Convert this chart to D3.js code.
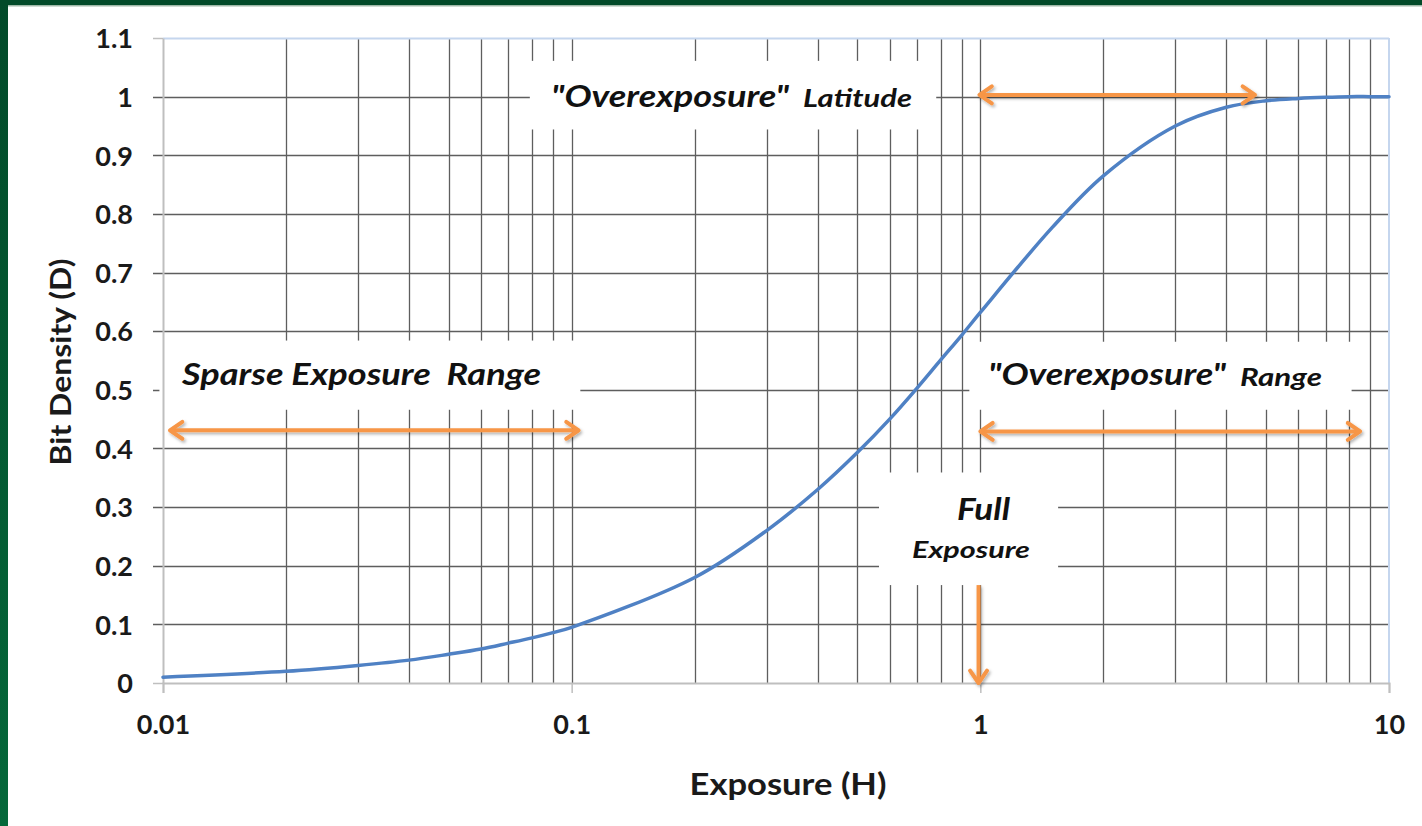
<!DOCTYPE html>
<html>
<head>
<meta charset="utf-8">
<script src="https://cdn.jsdelivr.net/npm/d3@7/dist/d3.min.js"></script>
<style>
  html, body { margin: 0; padding: 0; background: #fff; }
  svg { display: block; }
</style>
</head>
<body>
<svg id="chart" width="1422" height="826"></svg>
<script>
// ---- data ----
const exposure = [0.01, 0.02, 0.03, 0.04, 0.05, 0.06, 0.07, 0.08, 0.09, 0.1,
                  0.2, 0.3, 0.4, 0.5, 0.6, 0.7, 0.8, 0.9, 1,
                  1.5, 2, 3, 4, 5, 6, 7, 8, 9, 10];
const density  = [0.01, 0.02, 0.03, 0.039, 0.049, 0.058, 0.068, 0.077, 0.086, 0.095,
                  0.18, 0.26, 0.33, 0.393, 0.45, 0.503, 0.551, 0.593, 0.632,
                  0.777, 0.865, 0.95, 0.982, 0.993, 0.997, 0.999, 1.0, 1.0, 1.0];
const xTickValues = [0.01, 0.1, 1, 10];
const xTickLabels = ["0.01", "0.1", "1", "10"];
const yTickValues = [0, 0.1, 0.2, 0.3, 0.4, 0.5, 0.6, 0.7, 0.8, 0.9, 1, 1.1];
const yTickLabels = ["0", "0.1", "0.2", "0.3", "0.4", "0.5", "0.6", "0.7", "0.8", "0.9", "1", "1.1"];
const xTitle = "Exposure (H)";
const yTitle = "Bit Density (D)";

// annotation boxes in data coordinates: [x0, x1, yTop, yBottom]
const labelBoxes = [
  [0.079, 0.78, 1.061, 0.944],
  [0.0098, 0.105, 0.584, 0.466],
  [0.94, 8.1, 0.582, 0.466],
  [0.565, 1.55, 0.359, 0.167]
];
// arrows in data coordinates: [x0, y0, x1, y1, twoHeads]
const arrows = [
  [0.995, 1.003, 4.7, 1.003, true],
  [0.0104, 0.431, 0.104, 0.431, true],
  [1.0, 0.429, 8.5, 0.429, true],
  [0.99, 0.167, 0.99, 0.0, false]
];

// ---- layout ----
const svg = d3.select("#chart");
const W = 1422, H = 826;
const x = d3.scaleLog().domain([0.01, 10]).range([163, 1389]);
const y = d3.scaleLinear().domain([0, 1.1]).range([683, 38]);

// frame
const defs = svg.append("defs");
const lg = defs.append("linearGradient").attr("id", "frameGrad").attr("x1", 0).attr("y1", 0).attr("x2", 0).attr("y2", 1);
lg.append("stop").attr("offset", "0%").attr("stop-color", "#024a29");
lg.append("stop").attr("offset", "100%").attr("stop-color", "#05683a");
svg.append("rect").attr("width", W).attr("height", H).attr("fill", "#fff");
svg.append("rect").attr("x", 0).attr("y", 0).attr("width", 8).attr("height", H).attr("fill", "url(#frameGrad)");
svg.append("rect").attr("x", 0).attr("y", 0).attr("width", W).attr("height", 5).attr("fill", "#024a29");
svg.append("rect").attr("x", 8).attr("y", 5).attr("width", W - 8).attr("height", 1.5).attr("fill", "#9fb8a8");

const filt = defs.append("filter").attr("id", "shadow").attr("x", "-20%").attr("y", "-50%").attr("width", "140%").attr("height", "200%");
filt.append("feDropShadow").attr("dx", 1.5).attr("dy", 2).attr("stdDeviation", 1.5).attr("flood-color", "#000").attr("flood-opacity", 0.3);

// gridlines
const gridColor = "#5e5e5e";
const grid = svg.append("g");
const xMinor = x.ticks();
grid.selectAll("line.vx").data(xMinor.filter(d => d > 0.01 && d < 10)).join("line")
  .attr("x1", d => Math.round(x(d)) + 0.5).attr("x2", d => Math.round(x(d)) + 0.5)
  .attr("y1", y(1.1)).attr("y2", y(0))
  .attr("stroke", gridColor).attr("stroke-width", 1.3);
grid.selectAll("line.hy").data(yTickValues.filter(d => d > 0 && d < 1.1)).join("line")
  .attr("x1", x(0.01) - 10).attr("x2", x(10))
  .attr("y1", d => Math.round(y(d)) + 0.5).attr("y2", d => Math.round(y(d)) + 0.5)
  .attr("stroke", gridColor).attr("stroke-width", 1.3);
// tick stubs left of plot for 0 and 1.1
[0, 1.1].forEach(v => {
  grid.append("line").attr("x1", x(0.01) - 10).attr("x2", x(0.01))
    .attr("y1", Math.round(y(v)) + 0.5).attr("y2", Math.round(y(v)) + 0.5)
    .attr("stroke", "#bfbfbf").attr("stroke-width", 1.5);
});
// plot border top/right light blue
grid.append("line").attr("x1", x(0.01)).attr("x2", x(10)).attr("y1", y(1.1) + 0.5).attr("y2", y(1.1) + 0.5)
  .attr("stroke", "#c5d6ee").attr("stroke-width", 2);
grid.append("line").attr("x1", x(10)).attr("x2", x(10)).attr("y1", y(1.1)).attr("y2", y(0))
  .attr("stroke", "#c5d6ee").attr("stroke-width", 2);

// white label boxes that hide the grid
svg.append("g").selectAll("rect").data(labelBoxes).join("rect")
  .attr("x", d => x(d[0])).attr("y", d => y(d[2]))
  .attr("width", d => x(d[1]) - x(d[0])).attr("height", d => y(d[3]) - y(d[2]))
  .attr("fill", "#fff");

// axes
const xAxis = svg.append("g").attr("transform", `translate(0,${y(0)})`)
  .call(d3.axisBottom(x).tickValues(xTickValues).tickFormat((d, i) => xTickLabels[i]).tickSize(10).tickPadding(22));
const yAxis = svg.append("g").attr("transform", `translate(${x(0.01)},0)`)
  .call(d3.axisLeft(y).tickValues(yTickValues).tickFormat((d, i) => yTickLabels[i]).tickSize(0).tickPadding(30));
[xAxis, yAxis].forEach(a => {
  a.select(".domain").attr("stroke", "#bfbfbf").attr("stroke-width", 2);
  a.selectAll(".tick line").attr("stroke", "#bfbfbf").attr("stroke-width", 1.5);
  a.selectAll("text").attr("font-family", "Lato, 'DejaVu Sans', sans-serif").attr("font-weight", 700)
    .attr("font-size", 27).attr("fill", "#1a1a1a");
});
yAxis.selectAll(".tick text").attr("dy", "0.36em");
xAxis.selectAll(".tick text").attr("dy", "0.71em");

// curve
const pts = exposure.map((e, i) => [e, density[i]]);
svg.append("path").datum(pts)
  .attr("d", d3.line().x(d => x(d[0])).y(d => y(d[1])).curve(d3.curveCatmullRom.alpha(0.5)))
  .attr("fill", "none").attr("stroke", "#4f81c4").attr("stroke-width", 3.5)
  .attr("stroke-linecap", "round");

// arrows
const orange = "#f79646";
const ag = svg.append("g").attr("filter", "url(#shadow)");
arrows.forEach(a => {
  const x0 = x(a[0]), y0 = y(a[1]), x1 = x(a[2]), y1 = y(a[3]);
  ag.append("line").attr("x1", x0).attr("y1", y0).attr("x2", x1).attr("y2", y1)
    .attr("stroke", orange).attr("stroke-width", 4);
  const ang = Math.atan2(y1 - y0, x1 - x0);
  const head = (px, py, th) => {
    const L = 15, s = 0.6;
    const p1 = [px - L * Math.cos(th - s), py - L * Math.sin(th - s)];
    const p2 = [px - L * Math.cos(th + s), py - L * Math.sin(th + s)];
    ag.append("path").attr("d", `M${p1}L${px},${py}L${p2}`)
      .attr("fill", "none").attr("stroke", orange).attr("stroke-width", 4)
      .attr("stroke-linecap", "round").attr("stroke-linejoin", "round");
  };
  head(x1, y1, ang);
  if (a[4]) head(x0, y0, ang + Math.PI);
});

// annotation texts
const font = "Lato, 'DejaVu Sans', sans-serif";
const notes = [
  { t: "\"Overexposure\"", x: 551, y: 107, s: 30, w: 238 },
  { t: "Latitude", x: 803, y: 107, s: 24, w: 109 },
  { t: "Sparse Exposure  Range", x: 182, y: 385, s: 30, w: 359 },
  { t: "\"Overexposure\"", x: 988, y: 385, s: 30, w: 238 },
  { t: "Range", x: 1240, y: 386, s: 24, w: 82 },
  { t: "Full", x: 957, y: 520, s: 31, w: 53 },
  { t: "Exposure", x: 912, y: 558, s: 23, w: 118 }
];
svg.append("g").selectAll("text").data(notes).join("text")
  .attr("x", d => d.x).attr("y", d => d.y)
  .attr("font-family", font).attr("font-weight", 700).attr("font-style", "italic")
  .attr("font-size", d => d.s).attr("fill", "#111")
  .attr("textLength", d => d.w).attr("lengthAdjust", "spacingAndGlyphs")
  .attr("xml:space", "preserve")
  .text(d => d.t);

// axis titles
svg.append("text").attr("x", 788).attr("y", 795)
  .attr("text-anchor", "middle").attr("font-family", font).attr("font-weight", 700)
  .attr("font-size", 31).attr("fill", "#1a1a1a")
  .attr("textLength", 197).attr("lengthAdjust", "spacingAndGlyphs").text(xTitle);
svg.append("text").attr("transform", `translate(71,${362}) rotate(-90)`)
  .attr("text-anchor", "middle").attr("font-family", font).attr("font-weight", 700)
  .attr("font-size", 29).attr("fill", "#1a1a1a")
  .attr("textLength", 207).attr("lengthAdjust", "spacingAndGlyphs").text(yTitle);
</script>
</body>
</html>
